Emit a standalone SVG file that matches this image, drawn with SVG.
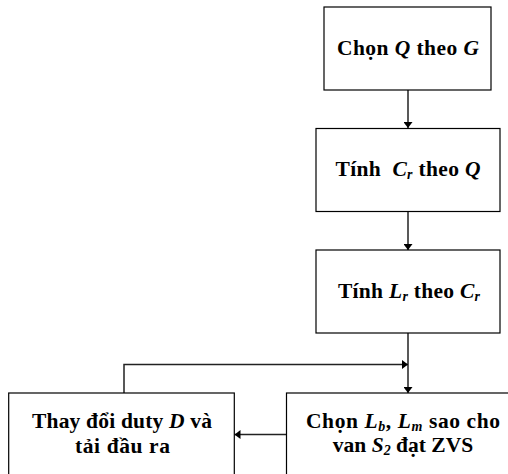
<svg xmlns="http://www.w3.org/2000/svg" width="508" height="474" viewBox="0 0 508 474">
<style>
.box{fill:#fff;stroke:#000;stroke-width:1.2}
.lbl{font-family:"Liberation Serif","Times New Roman",serif;font-weight:bold;font-size:21.5px;fill:#000}
.it{font-style:italic}
.sub{font-size:14px}
.con{fill:none;stroke:#222;stroke-width:1.5}
</style>
<defs>
<marker id="ah" viewBox="0 0 6 10" refX="6" refY="5" markerWidth="6" markerHeight="9" markerUnits="userSpaceOnUse" orient="auto" preserveAspectRatio="none">
<path d="M0,0 L6,5 L0,10 z" fill="#000"/>
</marker>
</defs>
<rect width="508" height="474" fill="#fff"/>
<g id="connectors">
<path class="con" d="M408,90 V128" marker-end="url(#ah)"/>
<path class="con" d="M408,212 V250" marker-end="url(#ah)"/>
<path class="con" d="M408,333 V393" marker-end="url(#ah)"/>
<path class="con" d="M124,393 V364.5 H408" marker-end="url(#ah)"/>
<path class="con" d="M286,434.5 H234.5" marker-end="url(#ah)"/>
</g>
<g id="node1">
<rect class="box" x="324" y="7" width="167" height="83"/>
<text class="lbl" x="408" y="55" text-anchor="middle" textLength="142" lengthAdjust="spacing">Chọn <tspan class="it">Q</tspan> theo <tspan class="it">G</tspan></text>
</g>
<g id="node2">
<rect class="box" x="316" y="128.5" width="184" height="83"/>
<text class="lbl" x="408" y="176" text-anchor="middle" textLength="145" lengthAdjust="spacing" xml:space="preserve">Tính  <tspan class="it">C</tspan><tspan class="it sub" dy="3">r</tspan><tspan dy="-3"> theo </tspan><tspan class="it">Q</tspan></text>
</g>
<g id="node3">
<rect class="box" x="316" y="250" width="184" height="83"/>
<text class="lbl" x="409" y="298" text-anchor="middle" textLength="142" lengthAdjust="spacing">Tính <tspan class="it">L</tspan><tspan class="it sub" dy="3">r</tspan><tspan dy="-3"> theo </tspan><tspan class="it">C</tspan><tspan class="it sub" dy="3">r</tspan></text>
</g>
<g id="node4">
<rect class="box" x="286.5" y="393" width="240" height="100"/>
<text class="lbl" x="403" y="427.5" text-anchor="middle" textLength="194" lengthAdjust="spacing">Chọn <tspan class="it">L</tspan><tspan class="it sub" dy="3">b</tspan><tspan dy="-3">, </tspan><tspan class="it">L</tspan><tspan class="it sub" dy="3">m</tspan><tspan dy="-3"> sao cho</tspan></text>
<text class="lbl" x="403" y="452" text-anchor="middle">van <tspan class="it">S</tspan><tspan class="it sub" dy="3">2</tspan><tspan dy="-3"> đạt ZVS</tspan></text>
</g>
<g id="node5">
<rect class="box" x="8.7" y="393" width="225.6" height="100"/>
<text class="lbl" x="122" y="428.3" text-anchor="middle" textLength="180" lengthAdjust="spacing">Thay đổi duty <tspan class="it">D</tspan> và</text>
<text class="lbl" x="122.5" y="453" text-anchor="middle" textLength="95" lengthAdjust="spacing">tải đầu ra</text>
</g>
</svg>
